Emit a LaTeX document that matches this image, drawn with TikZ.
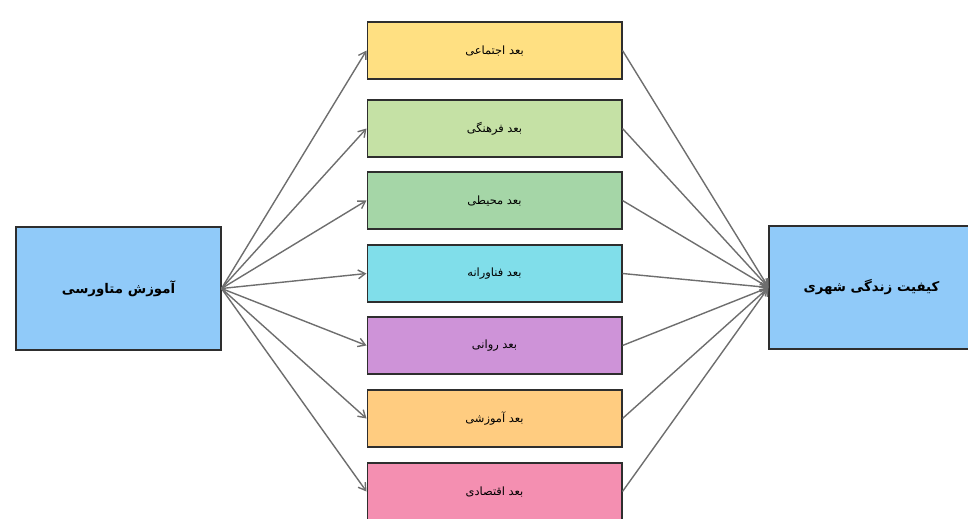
\documentclass[tikz,border=0pt]{standalone}
\usepackage{fontspec}
\usetikzlibrary{arrows.meta}
\newfontfamily\arabicfont[Script=Arabic]{DejaVu Sans}
\TeXXeTstate=1
\definecolor{edgegray}{HTML}{6E6E6E}
\definecolor{boxline}{HTML}{2E2E2E}
\definecolor{cblue}{HTML}{90CAF9}
\definecolor{cyellow}{HTML}{FFE082}
\definecolor{clgreen}{HTML}{C5E1A5}
\definecolor{cgreen}{HTML}{A5D6A7}
\definecolor{ccyan}{HTML}{80DEEA}
\definecolor{cpurple}{HTML}{CE93D8}
\definecolor{corange}{HTML}{FFCC80}
\definecolor{cpink}{HTML}{F48FB1}
\begin{document}
\begin{tikzpicture}[x=0.02cm, y=-0.02cm,
    mainbox/.style={draw=boxline, semithick, fill=cblue, inner sep=0pt, minimum width=4.1cm, minimum height=2.46cm, font=\arabicfont\bfseries\fontsize{7.6}{9}\selectfont},
    dimbox/.style={draw=boxline, semithick, inner sep=0pt, minimum width=5.1cm, minimum height=1.14cm, font=\arabicfont\fontsize{6.5}{8}\selectfont},
    link/.style={-{Straight Barb[length=4pt, width=5pt]}, draw=edgegray, thick}]
    \useasboundingbox (0, 0) rectangle (968, 518);

    \node[mainbox] (edu) at (118.5, 288.5) {\beginR آموزش متاورسی\endR};
    \node[mainbox] (life) at (871.5, 287.5) {\beginR کیفیت زندگی شهری\endR};

    \node[dimbox, fill=cyellow] (social) at (494.5, 50.5) {\beginR بعد اجتماعی\endR};
    \node[dimbox, fill=clgreen] (culture) at (494.5, 128.5) {\beginR بعد فرهنگی\endR};
    \node[dimbox, fill=cgreen] (environ) at (494.5, 200.5) {\beginR بعد محیطی\endR};
    \node[dimbox, fill=ccyan] (tech) at (494.5, 273.5) {\beginR بعد فناورانه\endR};
    \node[dimbox, fill=cpurple] (psych) at (494.5, 345.5) {\beginR بعد روانی\endR};
    \node[dimbox, fill=corange] (learn) at (494.5, 418.5) {\beginR بعد آموزشی\endR};
    \node[dimbox, fill=cpink] (econ) at (494.5, 491.5) {\beginR بعد اقتصادی\endR};

    \foreach \d in {social, culture, environ, tech, psych, learn, econ} {
        \draw[link] (edu.east) -- (\d.west);
        \draw[link] (\d.east) -- (life.west);
    }
  \end{tikzpicture}
\end{document}
